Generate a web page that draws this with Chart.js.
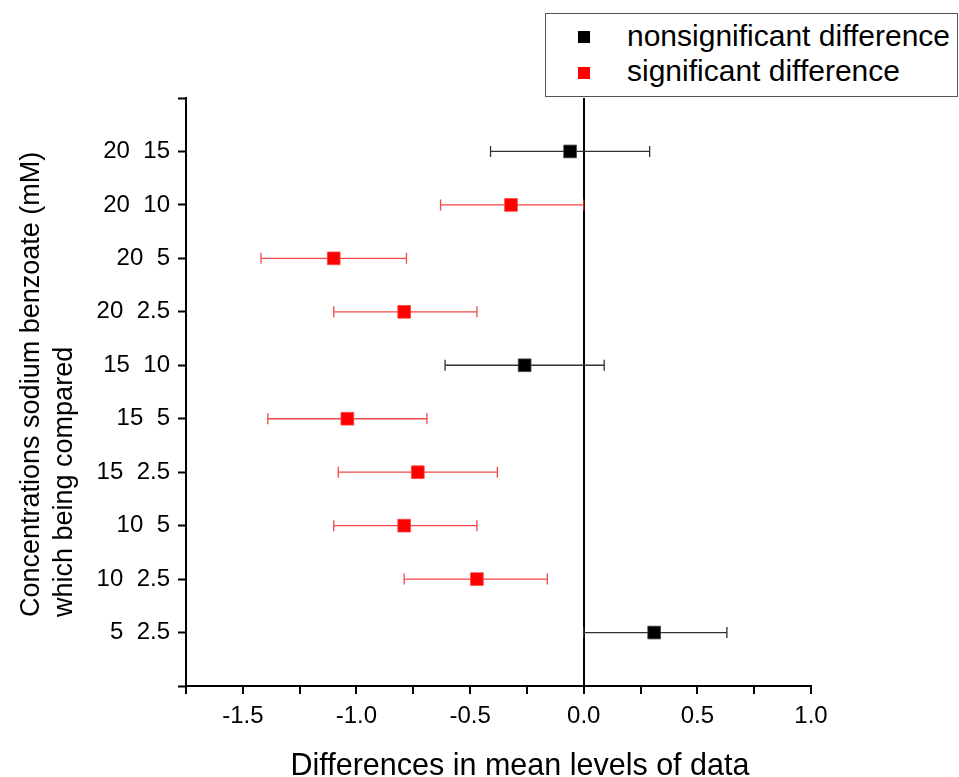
<!DOCTYPE html>
<html>
<head>
<meta charset="utf-8">
<script src="https://cdn.jsdelivr.net/npm/chart.js@4/dist/chart.umd.min.js"></script>
<style>
  html, body { margin: 0; padding: 0; background: #fff; }
  #wrap { position: relative; width: 959px; height: 777px; overflow: hidden; font-family: 'Liberation Sans', Arial, sans-serif; color: #000; }
  #c { position: absolute; left: 0; top: 0; }
  .legend { position: absolute; left: 545px; top: 13px; width: 411px; height: 82px; border: 1px solid #555; background: #fff; }
  .sq { position: absolute; width: 12px; height: 12px; }
  .lt { position: absolute; font-size: 30px; line-height: 30px; white-space: nowrap; }
  .xtitle { position: absolute; left: 220px; width: 600px; top: 749px; text-align: center; font-size: 30.5px; line-height: 30px; white-space: nowrap; }
  .ytitle { position: absolute; left: 14px; top: 617px; width: 520px; transform: rotate(-90deg); transform-origin: 0 0; font-size: 27px; line-height: 33px; white-space: nowrap; text-align: left; }
</style>
</head>
<body>
<div id="wrap">
  <canvas id="c" width="959" height="777"></canvas>
  <div class="legend"></div>
  <div class="sq" style="left:578px; top:31px; background:#000;"></div>
  <div class="lt" style="left:627px; top:21px;">nonsignificant difference</div>
  <div class="sq" style="left:578px; top:67px; background:#f00;"></div>
  <div class="lt" style="left:627px; top:56px;">significant difference</div>
  <div class="xtitle">Differences in mean levels of data</div>
  <div class="ytitle">Concentrations sodium benzoate (mM)<br>which being compared</div>
</div>
<script>
// ---- data ----
const categories = ['20  15', '20  10', '20  5', '20  2.5', '15  10', '15  5', '15  2.5', '10  5', '10  2.5', '5  2.5'];
const meanDiff  = [-0.06, -0.32, -1.10, -0.79, -0.26, -1.04, -0.73, -0.79, -0.47, 0.31];
const lowerCI   = [-0.41, -0.63, -1.42, -1.10, -0.61, -1.39, -1.08, -1.10, -0.79, 0.00];
const upperCI   = [ 0.29,  0.00, -0.78, -0.47,  0.09, -0.69, -0.38, -0.47, -0.16, 0.63];
const significant = [false, true, true, true, false, true, true, true, true, false];
const xTickLabels = [-1.5, -1.0, -0.5, 0.0, 0.5, 1.0];
const seriesNames = ['nonsignificant difference', 'significant difference'];

// category slot index: 1..10, with empty slots 0 and 11
const yLabels = [''].concat(categories, ['']);

function pts(flag) {
  const out = [];
  categories.forEach((c, i) => {
    if (significant[i] === flag) out.push({ x: meanDiff[i], y: i + 1, lo: lowerCI[i], hi: upperCI[i] });
  });
  return out;
}

const errorBars = {
  id: 'errorBars',
  beforeDatasetsDraw(chart) {
    const ctx = chart.ctx;
    const xs = chart.scales.x, ys = chart.scales.y;
    ctx.save();
    chart.data.datasets.forEach(ds => {
      ctx.strokeStyle = ds.errColor;
      ctx.lineWidth = 1.3;
      ds.data.forEach(p => {
        const y = ys.getPixelForValue(p.y);
        const x1 = xs.getPixelForValue(p.lo), x2 = xs.getPixelForValue(p.hi);
        ctx.beginPath();
        ctx.moveTo(x1, y); ctx.lineTo(x2, y);
        ctx.moveTo(x1, y - 5.5); ctx.lineTo(x1, y + 5.5);
        ctx.moveTo(x2, y - 5.5); ctx.lineTo(x2, y + 5.5);
        ctx.stroke();
      });
    });
    ctx.restore();
  }
};

new Chart(document.getElementById('c'), {
  type: 'scatter',
  data: {
    datasets: [
      { label: seriesNames[0], data: pts(false), backgroundColor: '#000', borderColor: '#444', borderWidth: 0.8,
        pointStyle: 'rect', pointRadius: 9, pointHoverRadius: 9, errColor: '#333' },
      { label: seriesNames[1], data: pts(true), backgroundColor: '#f00', borderColor: '#f44', borderWidth: 0.8,
        pointStyle: 'rect', pointRadius: 9, pointHoverRadius: 9, errColor: 'rgba(240,40,40,0.85)' }
    ]
  },
  options: {
    responsive: false,
    animation: false,
    events: [],
    layout: { padding: { left: 0, right: 148, top: 98, bottom: 31 } },
    plugins: { legend: { display: false }, tooltip: { enabled: false } },
    scales: {
      x: {
        type: 'linear', min: -1.75, max: 1.0,
        afterFit(s) { s.height = 60; },
        border: { display: true, color: '#000', width: 2 },
        grid: {
          drawOnChartArea: true, drawTicks: true, tickLength: 8,
          color: c => (c.tick && c.tick.value === 0 ? '#000' : 'rgba(0,0,0,0)'),
          lineWidth: 2, tickColor: '#000', tickWidth: 2
        },
        ticks: {
          stepSize: 0.25, autoSkip: false, maxRotation: 0, padding: 8, color: '#000',
          font: { family: "'Liberation Sans', Arial, sans-serif", size: 24 },
          callback: v => {
            const m = xTickLabels.find(t => Math.abs(t - v) < 1e-6);
            return m === undefined ? '' : m.toFixed(1);
          }
        }
      },
      y: {
        type: 'linear', min: 0, max: 11, reverse: true,
        afterFit(s) { s.width = 186; },
        border: { display: true, color: '#000', width: 2 },
        grid: { drawOnChartArea: false, drawTicks: true, tickLength: 8, tickColor: '#000', tickWidth: 2 },
        ticks: {
          stepSize: 1, autoSkip: false, padding: 8, color: '#000',
          font: { family: "'Liberation Sans', Arial, sans-serif", size: 24 },
          callback: v => yLabels[Math.round(v)]
        }
      }
    }
  },
  plugins: [errorBars]
});
</script>
</body>
</html>
